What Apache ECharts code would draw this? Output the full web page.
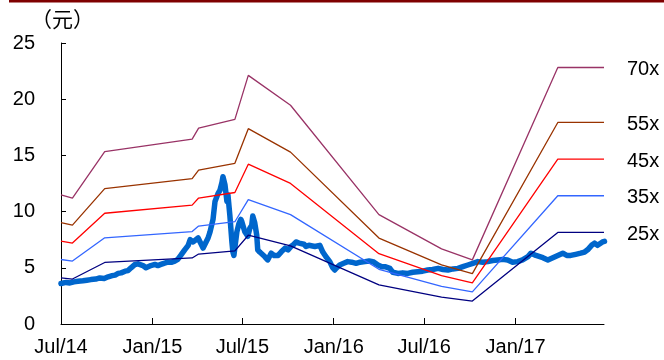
<!DOCTYPE html>
<html>
<head>
<meta charset="utf-8">
<script src="https://cdn.jsdelivr.net/npm/echarts@6/dist/echarts.min.js"></script>
<style>
  html, body { margin: 0; padding: 0; background: #fff; }
  #chart { width: 664px; height: 360px; }
</style>
</head>
<body>
<div id="chart"></div>
<script>
// Share price (元), sampled through the period
const priceDates = [
  '2014-07-01','2014-07-11','2014-07-19','2014-07-27','2014-08-04','2014-08-14','2014-08-22','2014-08-30',
  '2014-09-09','2014-09-17','2014-09-26','2014-10-04','2014-10-12','2014-10-18','2014-10-24','2014-10-30',
  '2014-11-07','2014-11-13','2014-11-19','2014-11-27','2014-12-03','2014-12-07','2014-12-13','2014-12-19',
  '2014-12-23','2014-12-29','2015-01-06','2015-01-12','2015-01-18','2015-01-24','2015-02-01','2015-02-09',
  '2015-02-15','2015-02-21','2015-02-27','2015-03-07','2015-03-14','2015-03-18','2015-03-24','2015-03-28',
  '2015-04-03','2015-04-07','2015-04-13','2015-04-19','2015-04-23','2015-04-27','2015-05-03','2015-05-07',
  '2015-05-13','2015-05-17','2015-05-21','2015-05-23','2015-05-27','2015-05-31','2015-06-02','2015-06-06',
  '2015-06-10','2015-06-12','2015-06-14','2015-06-16','2015-06-20','2015-06-24','2015-06-28','2015-06-30',
  '2015-07-06','2015-07-12','2015-07-16','2015-07-20','2015-07-22','2015-07-26','2015-07-30','2015-08-01',
  '2015-08-05','2015-08-09','2015-08-15','2015-08-21','2015-08-28','2015-09-03','2015-09-11','2015-09-17',
  '2015-09-25','2015-10-01','2015-10-07','2015-10-13','2015-10-17','2015-10-23','2015-10-27','2015-11-02',
  '2015-11-06','2015-11-12','2015-11-16','2015-11-24','2015-12-04','2015-12-10','2015-12-16','2015-12-24',
  '2015-12-30','2016-01-03','2016-01-07','2016-01-13','2016-01-21','2016-01-29','2016-02-06','2016-02-15',
  '2016-02-23','2016-03-04','2016-03-12','2016-03-20','2016-03-30','2016-04-07','2016-04-13','2016-04-23',
  '2016-04-29','2016-05-09','2016-05-19','2016-05-29','2016-06-08','2016-06-18','2016-06-28','2016-07-08',
  '2016-07-18','2016-07-29','2016-08-08','2016-08-18','2016-08-28','2016-09-07','2016-09-17','2016-09-27',
  '2016-10-07','2016-10-17','2016-10-27','2016-11-06','2016-11-16','2016-11-26','2016-12-06','2016-12-16',
  '2016-12-26','2017-01-05','2017-01-15','2017-01-26','2017-02-01','2017-02-05','2017-02-11','2017-02-15',
  '2017-02-25','2017-03-07','2017-03-17','2017-03-27','2017-04-06','2017-04-14','2017-04-22','2017-05-02',
  '2017-05-12','2017-05-20','2017-05-26','2017-06-03','2017-06-09','2017-06-15','2017-06-19','2017-06-25',
  '2017-06-29'
];
const priceValues = [
  3.60, 3.70, 3.65, 3.75, 3.80, 3.85, 3.90, 3.95,
  4.00, 4.10, 4.05, 4.20, 4.30, 4.35, 4.50, 4.55,
  4.70, 4.75, 5.00, 5.30, 5.35, 5.40, 5.20, 5.00,
  4.95, 5.20, 5.30, 5.20, 5.30, 5.40, 5.50, 5.50,
  5.60, 5.75, 6.10, 6.60, 7.00, 7.50, 7.30, 7.30,
  7.65, 7.30, 6.75, 7.30, 7.65, 8.20, 9.30, 10.90,
  11.60, 11.90, 12.60, 13.10, 12.40, 10.90, 11.50, 9.60,
  7.30, 6.40, 6.10, 6.00, 8.20, 8.90, 9.30, 9.10,
  8.20, 7.80, 8.50, 8.80, 9.60, 9.00, 7.90, 6.60,
  6.40, 6.50, 6.00, 5.70, 6.30, 6.10, 6.10, 6.40,
  6.75, 6.60, 6.90, 7.10, 7.30, 7.20, 7.30, 7.10,
  6.90, 7.00, 7.00, 6.90, 7.00, 6.40, 6.00, 5.55,
  5.00, 4.80, 5.00, 5.25, 5.40, 5.55, 5.50, 5.40,
  5.50, 5.55, 5.60, 5.55, 5.25, 5.10, 5.10, 4.95,
  4.60, 4.50, 4.55, 4.50, 4.60, 4.65, 4.70, 4.80,
  4.85, 4.95, 4.85, 4.80, 4.90, 4.95, 5.10, 5.25,
  5.40, 5.55, 5.50, 5.55, 5.65, 5.70, 5.75, 5.70,
  5.50, 5.55, 5.70, 6.00, 6.30, 6.40, 6.10, 6.00,
  5.90, 5.70, 5.90, 6.10, 6.30, 6.10, 6.10, 6.20,
  6.30, 6.40, 6.60, 7.00, 7.20, 7.00, 7.00, 7.30,
  7.35
];

// Trailing EPS (元) used for the PE bands
const epsDates  = ['2014-07-01','2014-07-24','2014-09-27','2015-03-22','2015-04-04','2015-06-16',
                   '2015-07-13','2015-10-06','2016-04-01','2016-08-05','2016-10-06','2017-03-27','2017-06-28'];
const epsValues = [0.164, 0.160, 0.219, 0.235, 0.249, 0.260,
                   0.316, 0.278, 0.139, 0.0955, 0.0815, 0.326, 0.326];

// PE multiples and their line colours
const peMultiples = [70, 55, 45, 35, 25];
const peColors    = ['#993366', '#993300', '#FF0000', '#3366FF', '#000080'];

// Axis ticks
const xTickDates = ['2014-07-01','2015-01-01','2015-07-01','2016-01-01','2016-07-01','2017-01-01'];
const monthNames = ['Jan','Feb','Mar','Apr','May','Jun','Jul','Aug','Sep','Oct','Nov','Dec'];
const yMin = 0, yMax = 25, yStep = 5;
const unitLabel = '（元）';

// dates are placed on a plain numeric axis in UTC milliseconds
function toTime(s) {
  const p = s.split('-').map(Number);
  return Date.UTC(p[0], p[1] - 1, p[2]);
}

const chart = echarts.init(document.getElementById('chart'), null, { renderer: 'canvas' });

const bandSeries = peMultiples.map((m, i) => ({
  name: m + 'x',
  type: 'line',
  showSymbol: false,
  silent: true,
  data: epsDates.map((d, k) => [toTime(d), +(epsValues[k] * m).toFixed(3)]),
  lineStyle: { color: peColors[i], width: 1.3 },
  itemStyle: { color: peColors[i] },
  endLabel: {
    show: true,
    formatter: m + 'x',
    color: '#000',
    fontSize: 20,
    fontFamily: 'Liberation Sans, Arial, sans-serif',
    distance: 23,
    offset: [0, 2]
  }
}));

const xTicks = xTickDates.map(toTime);

const option = {
  animation: false,
  backgroundColor: '#fff',
  grid: { left: 61, right: 60, top: 43, bottom: 36 },
  xAxis: {
    type: 'value',
    min: toTime('2014-07-01'),
    max: toTime('2017-06-28'),
    axisLine: { lineStyle: { color: '#000', width: 1 } },
    axisTick: {
      inside: true, length: 6,
      lineStyle: { color: '#000' },
      customValues: xTicks
    },
    axisLabel: {
      customValues: xTicks,
      formatter: v => {
        const d = new Date(v);
        return monthNames[d.getUTCMonth()] + '/' + String(d.getUTCFullYear()).slice(2);
      },
      color: '#000',
      fontSize: 20,
      fontFamily: 'Liberation Sans, Arial, sans-serif',
      margin: 13,
      hideOverlap: false
    },
    splitLine: { show: false }
  },
  yAxis: {
    type: 'value',
    min: yMin, max: yMax, interval: yStep,
    axisLine: { show: true, lineStyle: { color: '#000', width: 1 } },
    axisTick: { show: true, inside: true, length: 5, lineStyle: { color: '#000' } },
    axisLabel: {
      color: '#000',
      fontSize: 20,
      fontFamily: 'Liberation Sans, Arial, sans-serif',
      margin: 26
    },
    splitLine: { show: false }
  },
  graphic: [
    { type: 'rect', left: 9, top: 0, shape: { width: 655, height: 2.5 }, style: { fill: '#7F0000' } },
    { type: 'text', left: 31, top: 9,
      style: { text: unitLabel, fontSize: 21, fill: '#000',
               fontFamily: 'Noto Sans CJK SC, sans-serif' } }
  ],
  series: [
    {
      name: 'price',
      type: 'line',
      showSymbol: false,
      silent: true,
      data: priceDates.map((d, k) => [toTime(d), priceValues[k]]),
      lineStyle: { color: '#0066CC', width: 5.5, join: 'round', cap: 'round' },
      itemStyle: { color: '#0066CC' }
    },
    ...bandSeries
  ]
};

chart.setOption(option);
</script>
</body>
</html>
